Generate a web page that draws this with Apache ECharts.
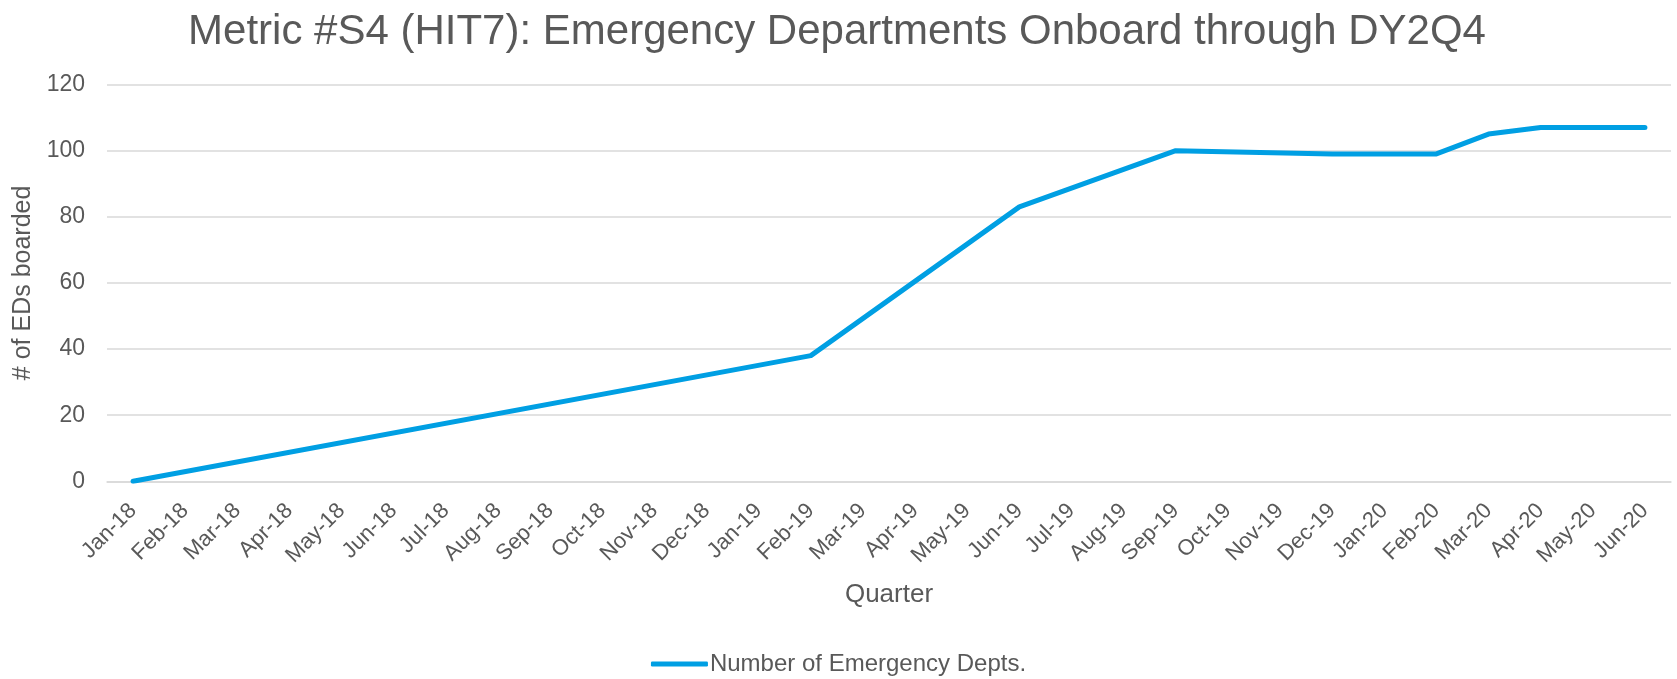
<!DOCTYPE html>
<html>
<head>
<meta charset="utf-8">
<script src="https://cdn.jsdelivr.net/npm/echarts@6/dist/echarts.min.js"></script>
<style>
html,body{margin:0;padding:0;background:#fff;}
#chart{width:1677px;height:679px;}
</style>
</head>
<body>
<div id="chart"></div>
<script>
var months = ['Jan-18','Feb-18','Mar-18','Apr-18','May-18','Jun-18','Jul-18','Aug-18','Sep-18','Oct-18','Nov-18','Dec-18',
  'Jan-19','Feb-19','Mar-19','Apr-19','May-19','Jun-19','Jul-19','Aug-19','Sep-19','Oct-19','Nov-19','Dec-19',
  'Jan-20','Feb-20','Mar-20','Apr-20','May-20','Jun-20'];
// Values read at the line's visible vertices; months in between are drawn as straight segments
var edsBoarded = [0,null,null,null,null,null,null,null,null,null,null,null,
  null,38,null,null,null,83,null,null,100,null,null,99,
  null,99,105,107,null,107];
var yTicks = [0,20,40,60,80,100,120];
var seriesName = 'Number of Emergency Depts.';
var titleText = 'Metric #S4 (HIT7): Emergency Departments Onboard through DY2Q4';

var gray = '#595959';
var font = 'Liberation Sans, Arial, sans-serif';
var chart = echarts.init(document.getElementById('chart'), null, {renderer:'canvas'});
chart.setOption({
  animation:false,
  backgroundColor:'#fff',
  textStyle:{fontFamily:font},
  title:{
    text:titleText,
    left:837, top:11, textAlign:'center', padding:0,
    textStyle:{fontSize:42, fontWeight:'normal', color:gray, fontFamily:font}
  },
  legend:{
    data:[{name:seriesName, icon:'roundRect'}],
    top:652, left:'center', padding:0,
    itemWidth:57, itemHeight:5, itemGap:0,
    textStyle:{fontSize:24, color:gray, padding:[0,0,0,-3]}
  },
  grid:{left:107, right:6, top:84.5, bottom:197.7, containLabel:false},
  xAxis:{
    type:'category',
    data:months,
    boundaryGap:true,
    name:'Quarter',
    nameLocation:'middle',
    nameGap:101,
    nameTextStyle:{fontSize:26, color:gray},
    axisLine:{show:true, lineStyle:{color:'#D9D9D9', width:1.5}},
    axisTick:{show:false},
    axisLabel:{interval:0, rotate:45, fontSize:22, color:gray, margin:26}
  },
  yAxis:{
    type:'value',
    min:yTicks[0], max:yTicks[yTicks.length-1], interval:20,
    name:'# of EDs boarded',
    nameLocation:'middle',
    nameGap:70,
    nameRotate:90,
    nameTextStyle:{fontSize:25, color:gray},
    axisLine:{show:false},
    axisTick:{show:false},
    axisLabel:{fontSize:23, color:gray, margin:22},
    splitLine:{lineStyle:{color:'#D9D9D9', width:1.5}}
  },
  series:[{
    name:seriesName,
    type:'line',
    data:edsBoarded,
    connectNulls:true,
    showSymbol:false,
    symbol:'none',
    lineStyle:{color:'#009FE3', width:5, cap:'round', join:'round'},
    itemStyle:{color:'#009FE3'}
  }]
});
</script>
</body>
</html>
